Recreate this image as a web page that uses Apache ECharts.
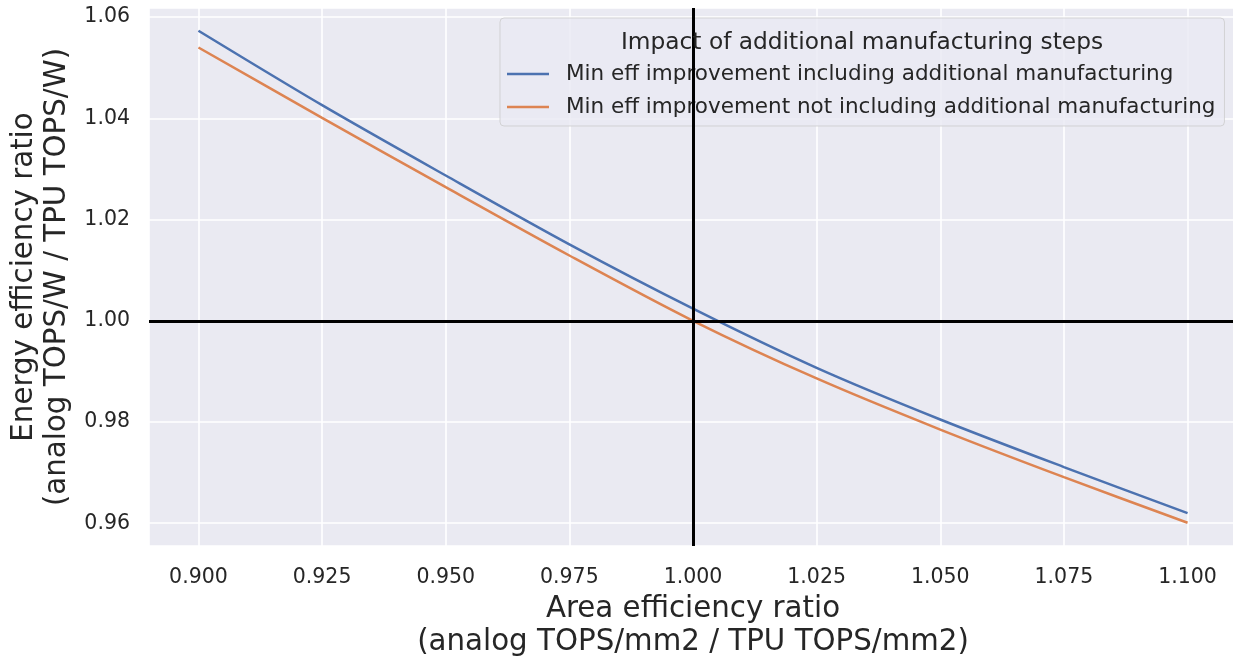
<!DOCTYPE html>
<html>
<head>
<meta charset="utf-8">
<script src="https://cdn.jsdelivr.net/npm/echarts@6/dist/echarts.min.js"></script>
<style>
  html, body { margin: 0; padding: 0; background: #ffffff; }
  #chart { width: 1233px; height: 660px; }
</style>
</head>
<body>
<div id="chart"></div>
<script>
// Area efficiency ratio (x) against the minimum energy efficiency ratio needed (y)
const areaRatio = [0.900, 0.925, 0.950, 0.975, 1.000, 1.025, 1.050, 1.075, 1.100];
const withManufacturing = [1.0573, 1.0426, 1.0287, 1.0151, 1.0024, 0.9907, 0.9805, 0.9711, 0.9620];
const withoutManufacturing = [1.0540, 1.0401, 1.0264, 1.0129, 1.0000, 0.9886, 0.9785, 0.9691, 0.9601];
const seriesNames = [
  'Min eff improvement including additional manufacturing',
  'Min eff improvement not including additional manufacturing'
];
const legendTitle = 'Impact of additional manufacturing steps';
const xTitle = 'Area efficiency ratio\n(analog TOPS/mm2 / TPU TOPS/mm2)';
const yTitle = 'Energy efficiency ratio\n(analog TOPS/W / TPU TOPS/W)';
const breakEvenX = 1.0;
const breakEvenY = 1.0;
const xStep = 0.025;
const yStep = 0.02;

const FONT = '"DejaVu Sans", sans-serif';
const TEXT = '#262626';

function onStep(v, step) {
  const k = v / step;
  return Math.abs(k - Math.round(k)) < 1e-6;
}

const pairs = (ys) => areaRatio.map((x, i) => [x, ys[i]]);

const chart = echarts.init(document.getElementById('chart'), null, { renderer: 'canvas' });

chart.setOption({
  backgroundColor: '#ffffff',
  animation: false,
  textStyle: { fontFamily: FONT, color: TEXT },
  grid: {
    left: 149, top: 8, width: 1088, height: 538,
    show: true, backgroundColor: '#EAEAF2', borderWidth: 0,
    containLabel: false,
    outerBoundsMode: 'none'
  },
  title: {
    text: legendTitle,
    left: 857, top: 26, textAlign: 'center',
    textStyle: { fontFamily: FONT, fontSize: 23.3, fontWeight: 'normal', color: TEXT }
  },
  legend: {
    orient: 'vertical',
    left: 500, top: 18,
    padding: [45, 9, 8, 7],
    itemGap: 11,
    itemWidth: 42, itemHeight: 2.5,
    icon: 'rect',
    backgroundColor: 'rgba(234,234,242,0.8)',
    borderColor: 'rgba(204,204,204,0.8)',
    borderWidth: 1,
    borderRadius: 4,
    textStyle: { fontFamily: FONT, fontSize: 21.5, color: TEXT, padding: [0, 0, 0, 12] },
    data: seriesNames
  },
  xAxis: {
    type: 'value',
    min: 0.89, max: 1.11,
    minInterval: xStep, maxInterval: xStep,
    axisLine: { show: false },
    axisTick: { show: false },
    splitLine: { show: true, lineStyle: { color: '#ffffff', width: 1.6 } },
    axisLabel: {
      margin: 21,
      fontFamily: FONT, fontSize: 20.5, color: TEXT,
      showMinLabel: false, showMaxLabel: false,
      formatter: (v) => onStep(v, xStep) ? v.toFixed(3) : ''
    },
    name: xTitle,
    nameLocation: 'middle',
    nameGap: 45,
    nameTextStyle: { fontFamily: FONT, fontSize: 29.3, color: TEXT, lineHeight: 33 }
  },
  yAxis: {
    type: 'value',
    min: 0.9555, max: 1.0618,
    minInterval: yStep, maxInterval: yStep,
    axisLine: { show: false },
    axisTick: { show: false },
    splitLine: { show: true, lineStyle: { color: '#ffffff', width: 1.6 } },
    axisLabel: {
      margin: 19,
      fontFamily: FONT, fontSize: 20.5, color: TEXT,
      showMinLabel: false, showMaxLabel: false,
      formatter: (v) => onStep(v, yStep) ? v.toFixed(2) : ''
    },
    name: yTitle,
    nameLocation: 'middle',
    nameRotate: 90,
    nameGap: 70,
    nameTextStyle: { fontFamily: FONT, fontSize: 29.3, color: TEXT, lineHeight: 33 }
  },
  series: [
    {
      name: seriesNames[0],
      type: 'line',
      data: pairs(withManufacturing),
      smooth: 0.3,
      symbol: 'none',
      z: 2,
      itemStyle: { color: '#4C72B0' },
      lineStyle: { color: '#4C72B0', width: 2.5 }
    },
    {
      name: seriesNames[1],
      type: 'line',
      data: pairs(withoutManufacturing),
      smooth: 0.3,
      symbol: 'none',
      z: 2,
      itemStyle: { color: '#DD8452' },
      lineStyle: { color: '#DD8452', width: 2.5 }
    },
    {
      // break-even reference lines
      type: 'line',
      data: [],
      z: 3,
      silent: true,
      markLine: {
        silent: true,
        symbol: 'none',
        animation: false,
        label: { show: false },
        lineStyle: { color: '#000000', width: 3, type: 'solid' },
        data: [{ xAxis: breakEvenX }, { yAxis: breakEvenY }]
      }
    }
  ]
});
</script>
</body>
</html>
